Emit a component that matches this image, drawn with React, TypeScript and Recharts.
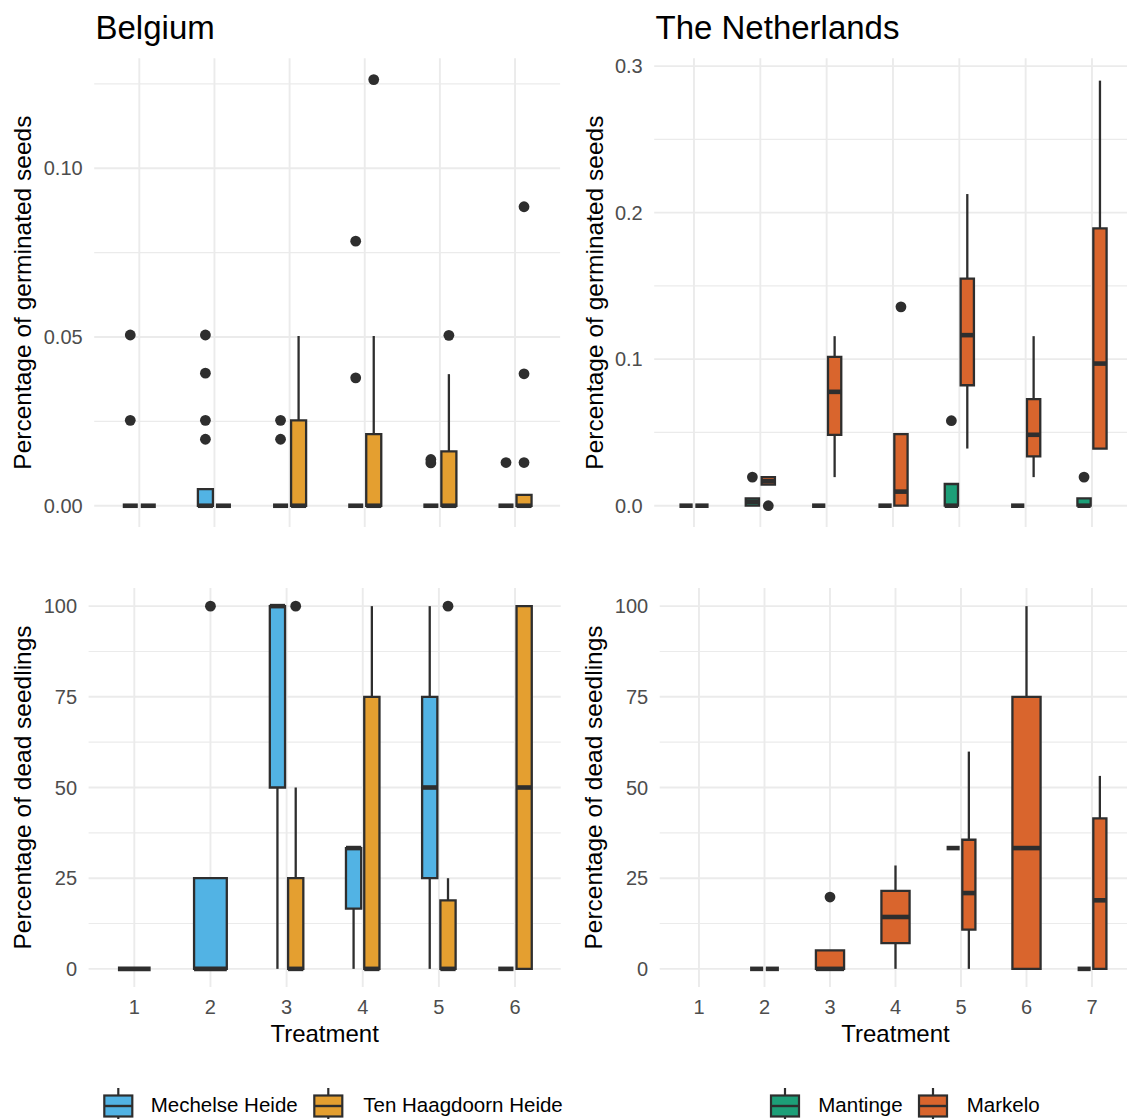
import React from "react";
import { ComposedChart, XAxis, YAxis, ReferenceArea, Scatter } from "recharts";

// one row per box: [treatment, lower whisker, q1, median, q3, upper whisker]
type Box = [number, number, number, number, number, number];
// one row per outlier: [treatment, value]
type Pt = [number, number];

const belgiumTreatments = [1, 2, 3, 4, 5, 6];
const netherlandsTreatments = [1, 2, 3, 4, 5, 6, 7];

// Belgium - germinated seeds
const mechelseGerm: Box[] = [
  [1, 0, 0, 0, 0, 0],
  [2, 0, 0, 0, 0.0049, 0.0049],
  [3, 0, 0, 0, 0, 0],
  [4, 0, 0, 0, 0, 0],
  [5, 0, 0, 0, 0, 0],
  [6, 0, 0, 0, 0, 0],
];
const mechelseGermOut: Pt[] = [
  [1, 0.0506], [1, 0.0253],
  [2, 0.0506], [2, 0.0393], [2, 0.0253], [2, 0.0197],
  [3, 0.0253], [3, 0.0197],
  [4, 0.0784], [4, 0.0379],
  [5, 0.0127], [5, 0.0137],
  [6, 0.0128],
];
const haagdoornGerm: Box[] = [
  [1, 0, 0, 0, 0, 0],
  [2, 0, 0, 0, 0, 0],
  [3, 0, 0, 0, 0.0253, 0.0503],
  [4, 0, 0, 0, 0.0212, 0.0503],
  [5, 0, 0, 0, 0.0161, 0.039],
  [6, 0, 0, 0, 0.0032, 0.0032],
];
const haagdoornGermOut: Pt[] = [
  [4, 0.1263],
  [5, 0.0505],
  [6, 0.0886], [6, 0.0391], [6, 0.0128],
];

// Belgium - dead seedlings
const mechelseDead: Box[] = [
  [1, 0, 0, 0, 0, 0],
  [2, 0, 0, 0, 25, 25],
  [3, 0, 50, 100, 100, 100],
  [4, 0, 16.6, 33.3, 33.3, 33.3],
  [5, 0, 25, 50, 75, 100],
  [6, 0, 0, 0, 0, 0],
];
const mechelseDeadOut: Pt[] = [[2, 100]];
const haagdoornDead: Box[] = [
  [3, 0, 0, 0, 25, 50],
  [4, 0, 0, 0, 75, 100],
  [5, 0, 0, 0, 18.9, 25],
  [6, 0, 0, 50, 100, 100],
];
const haagdoornDeadOut: Pt[] = [[3, 100], [5, 100]];

// The Netherlands - germinated seeds
const mantingeGerm: Box[] = [
  [1, 0, 0, 0, 0, 0],
  [2, 0, 0, 0.0025, 0.0049, 0.0049],
  [3, 0, 0, 0, 0, 0],
  [4, 0, 0, 0, 0, 0],
  [5, 0, 0, 0, 0.0148, 0.0148],
  [6, 0, 0, 0, 0, 0],
  [7, 0, 0, 0, 0.005, 0.005],
];
const mantingeGermOut: Pt[] = [[2, 0.0195], [5, 0.058], [7, 0.0195]];
const markeloGerm: Box[] = [
  [1, 0, 0, 0, 0, 0],
  [2, 0.0144, 0.0144, 0.0167, 0.0195, 0.0195],
  [3, 0.0195, 0.0484, 0.0777, 0.1016, 0.1157],
  [4, 0, 0, 0.0096, 0.0488, 0.0488],
  [5, 0.039, 0.0822, 0.1164, 0.155, 0.2127],
  [6, 0.0195, 0.0336, 0.0484, 0.0728, 0.1157],
  [7, 0.039, 0.039, 0.097, 0.1892, 0.2901],
];
const markeloGermOut: Pt[] = [[2, 0], [4, 0.1357]];

// The Netherlands - dead seedlings
const mantingeDead: Box[] = [
  [2, 0, 0, 0, 0, 0],
  [5, 33.3, 33.3, 33.3, 33.3, 33.3],
  [7, 0, 0, 0, 0, 0],
];
const mantingeDeadOut: Pt[] = [];
const markeloDead: Box[] = [
  [2, 0, 0, 0, 0, 0],
  [3, 0, 0, 0, 5.1, 5.1],
  [4, 0, 7.1, 14.3, 21.5, 28.5],
  [5, 0, 10.8, 20.9, 35.6, 59.9],
  [6, 0, 0, 33.3, 75, 100],
  [7, 0, 0, 18.9, 41.5, 53.2],
];
const markeloDeadOut: Pt[] = [[3, 19.8]];

const germBelgiumTicks = [0, 0.05, 0.1];
const germBelgiumMinor = [0.025, 0.075, 0.125];
const germNetherlandsTicks = [0, 0.1, 0.2, 0.3];
const germNetherlandsMinor = [0.05, 0.15, 0.25];
const deadTicks = [0, 25, 50, 75, 100];
const deadMinor = [12.5, 37.5, 62.5, 87.5];

const BLUE = "#52B3E4";
const YELLOW = "#E49F30";
const GREEN = "#1D9F78";
const RUST = "#D9652D";
const INK = "#2E2E2E";
const GRID = "#EBEBEB";
const FONT = "'Liberation Sans', Arial, Helvetica, sans-serif";

const DODGE = 0.12;
const DODGED_W = 0.2;
const SINGLE_W = 0.43;

type Series = { boxes: Box[]; outliers: Pt[]; fill: string };

// ggplot-like dodge: two groups share a treatment, a lone group takes the full width
const place = (series: Series[], s: number, t: number) => {
  const n = series.filter((g) => g.boxes.some((b) => b[0] === t)).length;
  if (n < 2) return { c: t, w: SINGLE_W };
  return { c: t + (s === 0 ? -DODGE : DODGE), w: DODGED_W };
};

const hLine = (stroke: string, width: number) => (p: any) =>
  p.x == null ? (
    <g />
  ) : (
    <line x1={p.x} x2={p.x + p.width} y1={p.y} y2={p.y} stroke={stroke} strokeWidth={width} />
  );

const vLine = (stroke: string, width: number) => (p: any) =>
  p.x == null ? (
    <g />
  ) : (
    <line x1={p.x} x2={p.x} y1={p.y} y2={p.y + p.height} stroke={stroke} strokeWidth={width} />
  );

const dot = (p: any) => <circle cx={p.cx} cy={p.cy} r={5.4} fill={INK} />;

interface PanelProps {
  left: number;
  top: number;
  width: number;
  height: number;
  margin: { top: number; right: number; bottom: number; left: number };
  yWidth: number;
  treatments: number[];
  yDomain: [number, number];
  yTicks: number[];
  yMinor: number[];
  digits: number;
  yTitle: string;
  yTitleOffset: number;
  showX: boolean;
  series: Series[];
}

const Panel: React.FC<PanelProps> = ({
  left,
  top,
  width,
  height,
  margin,
  yWidth,
  treatments,
  yDomain,
  yTicks,
  yMinor,
  digits,
  yTitle,
  yTitleOffset,
  showX,
  series,
}) => {
  const points = series.flatMap((g, s) =>
    g.outliers.map(([t, v]) => ({ x: place(series, s, t).c, y: v }))
  );
  const marks: React.ReactNode[] = [];
  // panel grid (theme_minimal style)
  yMinor.forEach((v) =>
    marks.push(<ReferenceArea key={"gm" + v} y1={v} y2={v} shape={hLine(GRID, 1.2)} />)
  );
  yTicks.forEach((v) =>
    marks.push(<ReferenceArea key={"gy" + v} y1={v} y2={v} shape={hLine(GRID, 1.9)} />)
  );
  treatments.forEach((t) =>
    marks.push(<ReferenceArea key={"gx" + t} x1={t} x2={t} shape={vLine(GRID, 1.9)} />)
  );
  series.forEach((g, s) =>
    g.boxes.forEach(([t, lo, q1, med, q3, hi]) => {
      const { c, w } = place(series, s, t);
      const k = `${s}-${t}`;
      if (lo < q1)
        marks.push(
          <ReferenceArea key={"wl" + k} x1={c} x2={c} y1={lo} y2={q1} shape={vLine(INK, 2.3)} />
        );
      if (hi > q3)
        marks.push(
          <ReferenceArea key={"wh" + k} x1={c} x2={c} y1={q3} y2={hi} shape={vLine(INK, 2.3)} />
        );
      marks.push(
        <ReferenceArea
          key={"b" + k}
          x1={c - w / 2}
          x2={c + w / 2}
          y1={q1}
          y2={q3}
          fill={g.fill}
          fillOpacity={1}
          stroke={INK}
          strokeWidth={2.3}
        />
      );
      marks.push(
        <ReferenceArea
          key={"md" + k}
          x1={c - w / 2}
          x2={c + w / 2}
          y1={med}
          y2={med}
          shape={hLine(INK, 4.6)}
        />
      );
    })
  );

  return (
    <div style={{ position: "absolute", left, top }}>
      <ComposedChart width={width} height={height} margin={margin}>
        <XAxis
          type="number"
          dataKey="x"
          domain={[0.4, treatments.length + 0.6]}
          ticks={treatments}
          interval={0}
          allowDataOverflow
          hide={!showX}
          height={60}
          axisLine={false}
          tickLine={false}
          tickSize={0}
          tickMargin={12.5}
          tick={{ fill: "#4D4D4D", fontSize: 20 }}
          label={{
            value: "Treatment",
            position: "insideBottom",
            offset: 5.3,
            style: { fill: "#000", fontSize: 24 },
          }}
        />
        <YAxis
          type="number"
          dataKey="y"
          domain={yDomain}
          ticks={yTicks}
          allowDataOverflow
          width={yWidth}
          axisLine={false}
          tickLine={false}
          tickSize={0}
          tickMargin={11.5}
          tickFormatter={(v: number) => v.toFixed(digits)}
          tick={{ fill: "#4D4D4D", fontSize: 20 }}
          label={{
            value: yTitle,
            angle: -90,
            position: "insideLeft",
            offset: yTitleOffset,
            style: { textAnchor: "middle", fill: "#000", fontSize: 24.5 },
          }}
        />
        {marks}
        <Scatter data={points} shape={dot} isAnimationActive={false} />
      </ComposedChart>
    </div>
  );
};

const LegendKey: React.FC<{ x: number; fill: string; label: string; textX: number }> = ({
  x,
  fill,
  label,
  textX,
}) => (
  <g>
    <line x1={x + 15} x2={x + 15} y1={1088} y2={1119} stroke={INK} strokeWidth={2.2} />
    <rect x={x + 1} y={1095.5} width={28} height={21} fill={fill} stroke={INK} strokeWidth={2.2} />
    <line x1={x + 1} x2={x + 29} y1={1106} y2={1106} stroke={INK} strokeWidth={2.4} />
    <text x={textX} y={1111.7} fontSize={20.5} fill="#000">
      {label}
    </text>
  </g>
);

export default function App() {
  const belgiumGerm: Series[] = [
    { boxes: mechelseGerm, outliers: mechelseGermOut, fill: BLUE },
    { boxes: haagdoornGerm, outliers: haagdoornGermOut, fill: YELLOW },
  ];
  const belgiumDead: Series[] = [
    { boxes: mechelseDead, outliers: mechelseDeadOut, fill: BLUE },
    { boxes: haagdoornDead, outliers: haagdoornDeadOut, fill: YELLOW },
  ];
  const nlGerm: Series[] = [
    { boxes: mantingeGerm, outliers: mantingeGermOut, fill: GREEN },
    { boxes: markeloGerm, outliers: markeloGermOut, fill: RUST },
  ];
  const nlDead: Series[] = [
    { boxes: mantingeDead, outliers: mantingeDeadOut, fill: GREEN },
    { boxes: markeloDead, outliers: markeloDeadOut, fill: RUST },
  ];

  return (
    <div
      style={{
        position: "absolute",
        left: 0,
        top: 0,
        width: 1127,
        height: 1119,
        overflow: "hidden",
        background: "#fff",
        fontFamily: FONT,
      }}
    >
      <Panel
        left={0}
        top={0}
        width={575}
        height={545}
        margin={{ top: 58.3, right: 14.9, bottom: 18, left: 0 }}
        yWidth={94.2}
        treatments={belgiumTreatments}
        yDomain={[-0.0063, 0.1326]}
        yTicks={germBelgiumTicks}
        yMinor={germBelgiumMinor}
        digits={2}
        yTitle="Percentage of germinated seeds"
        yTitleOffset={22.6}
        showX={false}
        series={belgiumGerm}
      />
      <Panel
        left={0}
        top={560}
        width={575}
        height={500}
        margin={{ top: 28, right: 14.3, bottom: 13, left: 0 }}
        yWidth={88.6}
        treatments={belgiumTreatments}
        yDomain={[-5, 105]}
        yTicks={deadTicks}
        yMinor={deadMinor}
        digits={0}
        yTitle="Percentage of dead seedlings"
        yTitleOffset={22.1}
        showX={true}
        series={belgiumDead}
      />
      <Panel
        left={575}
        top={0}
        width={560}
        height={545}
        margin={{ top: 58.3, right: 3.2, bottom: 18, left: 0 }}
        yWidth={79.2}
        treatments={netherlandsTreatments}
        yDomain={[-0.01454, 0.30534]}
        yTicks={germNetherlandsTicks}
        yMinor={germNetherlandsMinor}
        digits={1}
        yTitle="Percentage of germinated seeds"
        yTitleOffset={19.6}
        showX={false}
        series={nlGerm}
      />
      <Panel
        left={575}
        top={560}
        width={560}
        height={500}
        margin={{ top: 28, right: 3.7, bottom: 13, left: 0 }}
        yWidth={84.7}
        treatments={netherlandsTreatments}
        yDomain={[-5, 105]}
        yTicks={deadTicks}
        yMinor={deadMinor}
        digits={0}
        yTitle="Percentage of dead seedlings"
        yTitleOffset={18.8}
        showX={true}
        series={nlDead}
      />
      <svg
        width={1127}
        height={1119}
        style={{ position: "absolute", left: 0, top: 0, pointerEvents: "none" }}
      >
        <text x={95.5} y={38.5} fontSize={33} fill="#000">
          Belgium
        </text>
        <text x={655.5} y={38.5} fontSize={33} fill="#000">
          The Netherlands
        </text>
        <LegendKey x={103.3} fill={BLUE} label="Mechelse Heide" textX={150.7} />
        <LegendKey x={313.3} fill={YELLOW} label="Ten Haagdoorn Heide" textX={363.3} />
        <LegendKey x={770} fill={GREEN} label="Mantinge" textX={818.3} />
        <LegendKey x={918} fill={RUST} label="Markelo" textX={966.7} />
      </svg>
    </div>
  );
}
